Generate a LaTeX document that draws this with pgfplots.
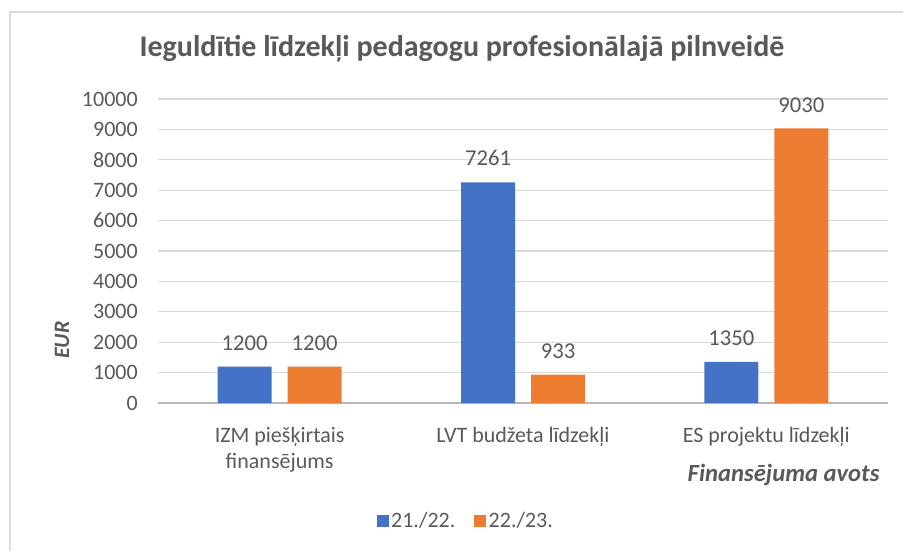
\documentclass[border=0pt]{standalone}
\usepackage{pgfplots}
\pgfplotsset{compat=1.18}
\usepackage{fontspec}
\setmainfont{Carlito}
\definecolor{cblue}{HTML}{4472C4}
\definecolor{corange}{HTML}{ED7D31}
\definecolor{tgray}{HTML}{595959}
\definecolor{ggray}{HTML}{D9D9D9}
\begin{document}
\begin{tikzpicture}
\path[use as bounding box] (0,0) rectangle (677.25pt,412.5pt);
\draw[color=ggray!90, line width=1.5pt] (7.5pt,-5pt) -- (7.5pt,403.5pt) -- (690pt,403.5pt);
\begin{axis}[
  at={(118.5pt,110.25pt)}, anchor=south west,
  scale only axis, width=547.5pt, height=228pt,
  xmin=-0.5, xmax=2.5, ymin=0, ymax=10000,
  ytick={0,1000,...,10000}, xtick={0,1,2},
  xticklabels={{IZM piešķirtais\\finansējums},{LVT budžeta līdzekļi},{ES projektu līdzekļi}},
  scaled y ticks=false,
  /pgf/number format/1000 sep={},
  /pgf/number format/assume math mode=true,
  major tick length=0pt,
  axis lines=left, axis line style={-},
  y axis line style={draw=none},
  x axis line style={draw=ggray!85!black, line width=0.9pt},
  ymajorgrids, grid style={ggray, line width=0.8pt},
  tick label style={font=\fontsize{16.5}{19.5}\selectfont, text=tgray},
  yticklabel style={anchor=east, inner sep=0pt, xshift=-15pt},
  xticklabel style={anchor=north, inner sep=0pt, yshift=-18pt, align=center},
  ybar, bar width=40.5pt,
  nodes near coords,
  every node near coord/.append style={font=\fontsize{17}{20}\selectfont, text=tgray, anchor=south, inner sep=0pt, yshift=12pt},
  title={Ieguldītie līdzekļi pedagogu profesionālajā pilnveidē},
  title style={at={(axis description cs:0.4164,1.115)}, anchor=base, inner sep=0pt, font=\fontsize{22.5}{27}\selectfont\bfseries, text=tgray},
  ylabel={EUR},
  ylabel style={at={(axis description cs:-0.1315,0.207)}, anchor=center, font=\fontsize{16.5}{19.5}\selectfont\bfseries\itshape, text=tgray},
  xlabel={Finansējuma avots},
  xlabel style={at={(axis description cs:0.857,-0.237)}, anchor=center, font=\fontsize{18.5}{22}\selectfont\bfseries\itshape, text=tgray},
  legend columns=2,
  legend style={at={(axis description cs:0.422,-0.388)}, anchor=center, draw=none, fill=none,
    font=\fontsize{16.5}{19.5}\selectfont, text=tgray,
    /tikz/every even column/.append style={column sep=12pt}},
  legend image code/.code={\fill[#1] (0pt,-4.5pt) rectangle (9pt,4.5pt);},
]
\addplot[fill=cblue, draw=none, bar shift=-26.25pt] coordinates {(0,1200) (1,7261) (2,1350)};
\addplot[fill=corange, draw=none, bar shift=26.25pt] coordinates {(0,1200) (1,933) (2,9030)};
\legend{21./22.,22./23.}
\end{axis}
\end{tikzpicture}
\end{document}
